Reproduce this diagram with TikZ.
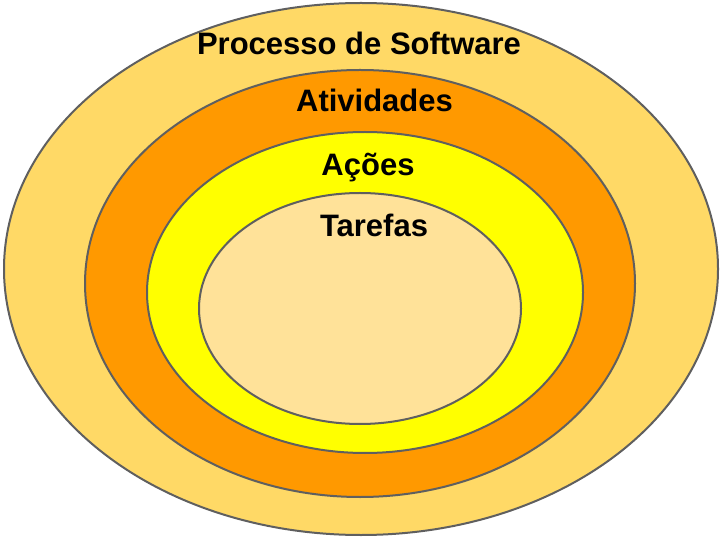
\documentclass[tikz,border=0pt]{standalone}
\usepackage{fontspec}
\setmainfont{Liberation Sans}
\usepackage{xcolor}
\usepackage{tikz}
\usetikzlibrary{shapes.geometric}
\definecolor{processgold}{HTML}{FFD966}
\definecolor{activityorange}{HTML}{FF9900}
\definecolor{actionyellow}{HTML}{FFFF00}
\definecolor{taskcream}{HTML}{FFE299}
\definecolor{ringgray}{HTML}{5F5F5F}

\begin{document}
\begin{tikzpicture}[
    x=1pt, y=1pt,
    layer/.style={ellipse, draw=ringgray, fill=#1, line width=2pt,
                  inner sep=0pt},
    layer/.default=processgold,
    caption/.style={anchor=base, font=\bfseries\fontsize{31}{34}\selectfont,
                    inner sep=0pt}
]
\useasboundingbox (0,0) rectangle (722,541);

% Nested layers
\node[layer=processgold, minimum width=714pt, minimum height=532pt] at (361,272) (process) {};
\node[layer=activityorange, minimum width=550pt, minimum height=427pt] at (360,257.5) (activities) {};
\node[layer=actionyellow, minimum width=436pt, minimum height=321pt] at (365,248.5) (actions) {};
\node[layer=taskcream, minimum width=322pt, minimum height=231pt] at (360,232.5) (tasks) {};

% Labels
\node[caption] at (359,486) (processlabel) {Processo de Software};
\node[caption] at (374.5,429) (activitieslabel) {Atividades};
\node[caption] at (368,365) (actionslabel) {Ações};
\node[caption] at (374,304) (taskslabel) {Tarefas};

\end{tikzpicture}
\end{document}
